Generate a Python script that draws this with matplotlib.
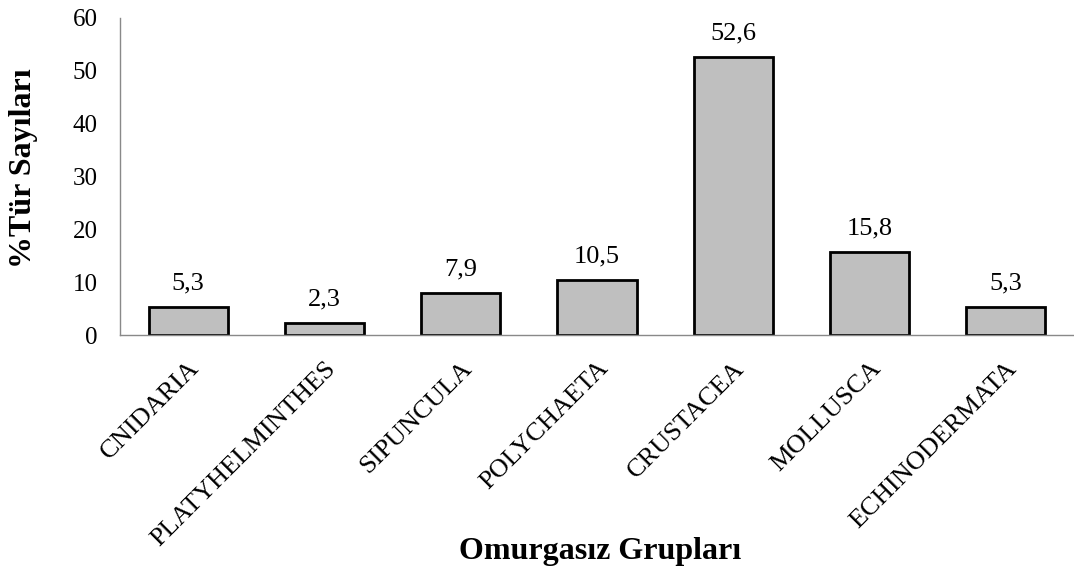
import matplotlib
matplotlib.use("Agg")
import matplotlib.pyplot as plt

categories = ["CNIDARIA", "PLATYHELMINTHES", "SIPUNCULA", "POLYCHAETA",
              "CRUSTACEA", "MOLLUSCA", "ECHINODERMATA"]
values = [5.3, 2.3, 7.9, 10.5, 52.6, 15.8, 5.3]
value_labels = ["5,3", "2,3", "7,9", "10,5", "52,6", "15,8", "5,3"]
yticks = [0, 10, 20, 30, 40, 50, 60]

plt.rcParams['font.family'] = ['Liberation Serif', 'DejaVu Serif']

fig = plt.figure(figsize=(10.74, 5.72), dpi=100)
ax = fig.add_axes([120/1074, 1 - 335/572, 1 - 120/1074, (335 - 18)/572])

x = list(range(len(categories)))
bars = ax.bar(x, values, width=0.58, color="#BFBFBF", edgecolor="black", linewidth=2)
for xi, v, lab in zip(x, values, value_labels):
    ax.annotate(lab, xy=(xi, v), xytext=(0, 12.5), textcoords="offset points",
                ha="center", va="baseline", fontsize=19)

ax.set_xlim(-0.5, len(categories) - 0.5)
ax.set_ylim(0, 60)
ax.set_yticks(yticks)
ax.set_yticklabels([str(t) for t in yticks], fontsize=18)
ax.set_xticks(x)
ax.set_xticklabels(categories, rotation=45, ha="right", rotation_mode="anchor", fontsize=19)
ax.tick_params(axis="both", length=0)
ax.tick_params(axis="y", pad=16)
ax.tick_params(axis="x", pad=16)

for s in ["top", "right"]:
    ax.spines[s].set_visible(False)
for s in ["left", "bottom"]:
    ax.spines[s].set_color("#898989")
    ax.spines[s].set_linewidth(1)

fig.text(24/1074, 1 - 168/572, "%Tür Sayıları", rotation=90, ha="center", va="center",
         fontsize=23, fontweight="bold")
fig.text(600/1074, 1 - 551/572, "Omurgasız Grupları", ha="center", va="center",
         fontsize=23, fontweight="bold")

fig.savefig("out.png", dpi=100)
